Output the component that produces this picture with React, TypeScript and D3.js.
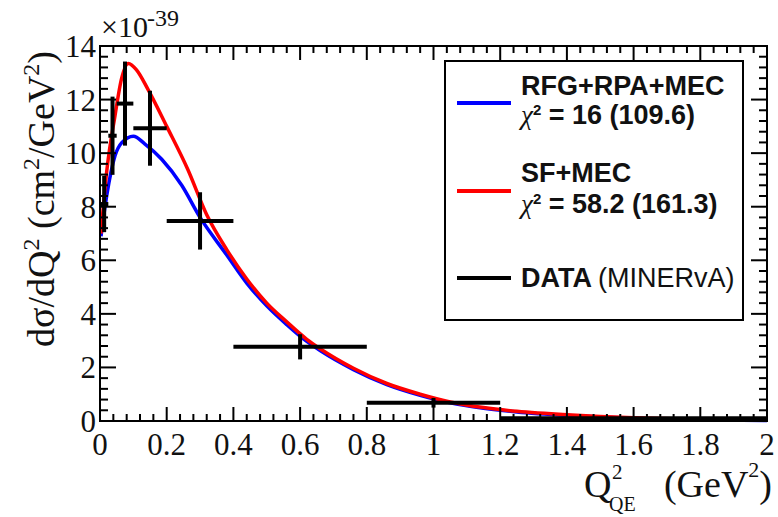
import React from "react";
import * as d3 from "d3";

// ---- data ----
const binLow = [0, 0.025, 0.05, 0.1, 0.2, 0.4, 0.8, 1.2];
const binHigh = [0.025, 0.05, 0.1, 0.2, 0.4, 0.8, 1.2, 2.0];
const dataX = [0.0125, 0.0375, 0.075, 0.15, 0.3, 0.6, 1.0, 1.6];
const dataY = [8.1, 10.65, 11.85, 10.93, 7.47, 2.77, 0.68, 0.1];
const dataErr = [1.05, 1.46, 1.57, 1.4, 1.07, 0.47, 0.18, 0.05];

const redX = [0.003, 0.02, 0.045, 0.065, 0.085, 0.11, 0.143, 0.2, 0.263, 0.32, 0.38, 0.44, 0.5, 0.56, 0.62, 0.66, 0.76, 0.86, 0.96, 1.05, 1.15, 1.25, 1.4, 1.5, 1.6, 1.8, 2.0];
const redY = [7.0, 9.3, 11.4, 12.8, 13.35, 13.1, 12.4, 11.0, 9.4, 7.7, 6.4, 5.3, 4.4, 3.7, 3.05, 2.7, 1.97, 1.4, 1.0, 0.71, 0.5, 0.36, 0.23, 0.17, 0.12, 0.055, 0.025];

const blueX = [0.003, 0.02, 0.045, 0.066, 0.1, 0.134, 0.185, 0.245, 0.3, 0.38, 0.44, 0.5, 0.56, 0.62, 0.66, 0.76, 0.86, 0.96, 1.05, 1.15, 1.25, 1.4, 1.5, 1.6, 1.8, 2.0];
const blueY = [6.9, 8.4, 9.9, 10.4, 10.63, 10.35, 9.77, 8.8, 7.6, 6.2, 5.15, 4.3, 3.6, 2.97, 2.63, 1.92, 1.36, 0.96, 0.68, 0.48, 0.34, 0.21, 0.15, 0.1, 0.045, 0.02];

const xTickLabels = ["0", "0.2", "0.4", "0.6", "0.8", "1", "1.2", "1.4", "1.6", "1.8", "2"];
const yTickLabels = ["0", "2", "4", "6", "8", "10", "12", "14"];

const legendNames = ["RFG+RPA+MEC", "SF+MEC", "DATA"];
const legendChi = ["16 (109.6)", "58.2 (161.3)"];

// ---- layout ----
const L = 100, R = 767, T = 46, B = 421;
const serif = "'Liberation Serif', 'Times New Roman', serif";
const sans = "'Liberation Sans', Arial, sans-serif";

export default function App() {
  const x = d3.scaleLinear().domain([0, 2]).range([L, R]);
  const y = d3.scaleLinear().domain([0, 14]).range([B, T]);
  const line = d3.line<[number, number]>().x(d => x(d[0])).y(d => y(d[1])).curve(d3.curveMonotoneX);
  const red = line(redX.map((v, i) => [v, redY[i]] as [number, number])) || "";
  const blue = line(blueX.map((v, i) => [v, blueY[i]] as [number, number])) || "";

  const xMajor = d3.range(0, 2.0001, 0.2);
  const xMinor = d3.range(0, 2.0001, 0.04).filter(v => Math.abs(v / 0.2 - Math.round(v / 0.2)) > 1e-6);
  const yMajor = d3.range(0, 14.0001, 2);
  const yMinor = d3.range(0, 14.0001, 0.4).filter(v => Math.abs(v / 2 - Math.round(v / 2)) > 1e-6);

  const xMaj = 14, xMin = 7, yMaj = 16, yMin = 8;

  return (
    <svg width={778} height={517} style={{ position: "absolute", left: 0, top: 0, background: "#fff" }}>
      <rect width={778} height={517} fill="#fff" />
      {/* curves */}
      <path d={blue} fill="none" stroke="#0000ff" strokeWidth={3.5} />
      <path d={red} fill="none" stroke="#ff0000" strokeWidth={3.5} />
      {/* data */}
      {dataX.map((v, i) => (
        <g key={i} stroke="#000" strokeWidth={4}>
          <line x1={x(binLow[i])} x2={x(binHigh[i])} y1={y(dataY[i])} y2={y(dataY[i])} />
          <line x1={x(v)} x2={x(v)} y1={y(dataY[i] - dataErr[i])} y2={y(dataY[i] + dataErr[i])} />
        </g>
      ))}
      {/* frame */}
      <rect x={L} y={T} width={R - L} height={B - T} fill="none" stroke="#000" strokeWidth={2} />
      <g stroke="#000" strokeWidth={2}>
        {xMajor.map((v, i) => (
          <g key={"xM" + i}>
            <line x1={x(v)} x2={x(v)} y1={B} y2={B - xMaj} />
            <line x1={x(v)} x2={x(v)} y1={T} y2={T + xMaj} />
          </g>
        ))}
        {xMinor.map((v, i) => (
          <g key={"xm" + i}>
            <line x1={x(v)} x2={x(v)} y1={B} y2={B - xMin} />
            <line x1={x(v)} x2={x(v)} y1={T} y2={T + xMin} />
          </g>
        ))}
        {yMajor.map((v, i) => (
          <g key={"yM" + i}>
            <line x1={L} x2={L + yMaj} y1={y(v)} y2={y(v)} />
            <line x1={R} x2={R - yMaj} y1={y(v)} y2={y(v)} />
          </g>
        ))}
        {yMinor.map((v, i) => (
          <g key={"ym" + i}>
            <line x1={L} x2={L + yMin} y1={y(v)} y2={y(v)} />
            <line x1={R} x2={R - yMin} y1={y(v)} y2={y(v)} />
          </g>
        ))}
      </g>
      {/* tick labels */}
      <g fontFamily={serif} fontSize={31} fill="#111">
        {xMajor.map((v, i) => (
          <text key={"xl" + i} x={x(v)} y={455} textAnchor="middle">{xTickLabels[i]}</text>
        ))}
        {yMajor.map((v, i) => (
          <text key={"yl" + i} x={96} y={y(v) + 11} textAnchor="end">{yTickLabels[i]}</text>
        ))}
      </g>
      {/* exponent */}
      <text x={101} y={37} fontFamily={serif} fontSize={30} fill="#111">×10</text>
      <text x={147} y={26} fontFamily={serif} fontSize={24} fill="#111">-39</text>
      {/* y title */}
      <text transform="translate(54,347) rotate(-90)" fontFamily={serif} fontSize={38} fill="#111">
        dσ/dQ<tspan fontSize={24} dy={-15}>2</tspan>
        <tspan dy={15}> (cm</tspan><tspan fontSize={24} dy={-15}>2</tspan>
        <tspan dy={15}>/GeV</tspan><tspan fontSize={24} dy={-15}>2</tspan>
        <tspan dy={15}>)</tspan>
      </text>
      {/* x title */}
      <g fontFamily={serif} fill="#111">
        <text x={584} y={497} fontSize={38}>Q</text>
        <text x={612} y={479} fontSize={21}>2</text>
        <text x={609} y={511} fontSize={20}>QE</text>
        <text x={772} y={497} fontSize={38} textAnchor="end">
          (GeV<tspan fontSize={22} dy={-20}>2</tspan><tspan dy={20}>)</tspan>
        </text>
      </g>
      {/* legend */}
      <rect x={445} y={61} width={298} height={259} fill="#fff" stroke="#000" strokeWidth={2} />
      <line x1={457} x2={511} y1={103} y2={103} stroke="#0000ff" strokeWidth={4} />
      <line x1={457} x2={511} y1={191} y2={191} stroke="#ff0000" strokeWidth={4} />
      <line x1={457} x2={511} y1={278} y2={278} stroke="#000" strokeWidth={4} />
      <g fontFamily={sans} fontWeight="bold" fontSize={27} fill="#111">
        <text x={521} y={95}>{legendNames[0]}</text>
        <text x={521} y={124}>
          <tspan fontFamily={serif} fontWeight="normal" fontStyle="italic">χ</tspan>
          <tspan fontSize={15} dy={-9}>2</tspan>
          <tspan dy={9}>{" = " + legendChi[0]}</tspan>
        </text>
        <text x={521} y={182}>{legendNames[1]}</text>
        <text x={521} y={213}>
          <tspan fontFamily={serif} fontWeight="normal" fontStyle="italic">χ</tspan>
          <tspan fontSize={15} dy={-9}>2</tspan>
          <tspan dy={9}>{" = " + legendChi[1]}</tspan>
        </text>
        <text x={521} y={287}>
          {legendNames[2]}
          <tspan fontWeight="normal" dx={6}>(MINERvA)</tspan>
        </text>
      </g>
    </svg>
  );
}
